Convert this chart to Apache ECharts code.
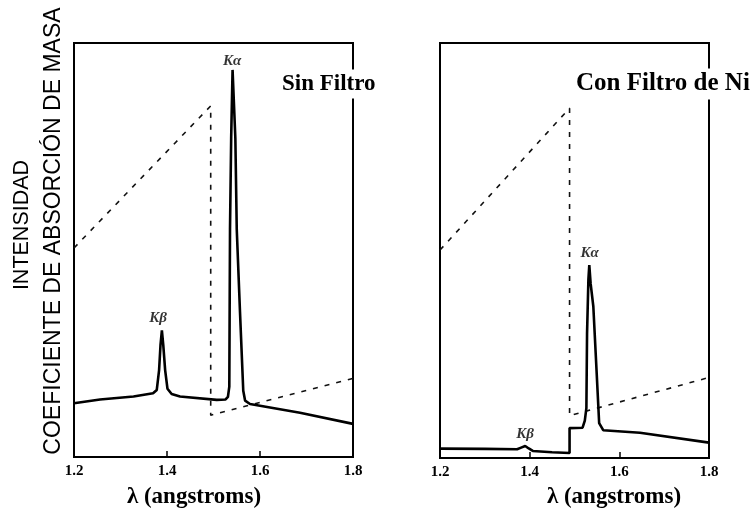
<!DOCTYPE html>
<html>
<head>
<meta charset="utf-8">
<script src="https://cdn.jsdelivr.net/npm/echarts@6/dist/echarts.min.js"></script>
<style>html,body{margin:0;padding:0;background:#fff}#c{width:754px;height:512px}</style>
</head>
<body>
<div id="c"></div>
<script>
// ---- data (wavelength in angstroms, relative units 0..100) ----
const xTicks = [1.2, 1.4, 1.6, 1.8];

const lambdaSin = [1.200, 1.256, 1.328, 1.370, 1.378, 1.383, 1.386, 1.389, 1.392, 1.396, 1.401, 1.410, 1.428, 1.507, 1.526, 1.531, 1.534, 1.5355, 1.538, 1.541, 1.547, 1.550, 1.557, 1.564, 1.568, 1.5785, 1.686, 1.800];
const intensitySin = [13.0, 13.9, 14.6, 15.4, 16.2, 21, 27, 30.6, 27, 21, 16.5, 15.2, 14.6, 13.8, 13.9, 14.5, 17, 55, 77, 93.5, 77, 55, 35, 16, 13.6, 12.8, 10.7, 8.0];

const lambdaCon = [1.200, 1.300, 1.372, 1.381, 1.390, 1.398, 1.407, 1.450, 1.489, 1.489, 1.518, 1.523, 1.5265, 1.528, 1.531, 1.533, 1.536, 1.542, 1.5495, 1.555, 1.564, 1.646, 1.800];
const intensityCon = [2.25, 2.2, 2.1, 2.5, 2.9, 2.3, 1.7, 1.4, 1.2, 7.2, 7.3, 9, 12, 30, 43, 46.5, 42, 36.5, 20.4, 8.4, 6.7, 6.1, 3.7];

const absLambdaSin = [1.2, 1.494, 1.494, 1.8];
const absorptionSin = [50.5, 84.8, 10.1, 19.0];
const absLambdaCon = [1.2, 1.489, 1.489, 1.8];
const absorptionCon = [50.1, 84.3, 10.2, 19.4];

const peakNames = ['Kβ', 'Kα'];
const peakLambdaSin = [1.381, 1.540];
const peakLabelYSin = [33.6, 95.7];
const peakLambdaCon = [1.390, 1.534];
const peakLabelYCon = [5.8, 49.4];

const panelTitles = ['Sin Filtro', 'Con Filtro de Ni'];
const xTitle = 'λ (angstroms)';
const yTitles = ['INTENSIDAD', 'COEFICIENTE DE ABSORCIÓN DE MASA'];

// ---- helpers ----
const zip = (xs, ys) => xs.map((x, i) => [x, ys[i]]);
const chart = echarts.init(document.getElementById('c'), null, {renderer: 'canvas'});

function xAxisCfg(gi) {
  return {
    type: 'value', gridIndex: gi, min: 1.2, max: 1.8, interval: 0.2,
    axisLine: {show: false},
    axisTick: {show: true, inside: true, length: 6, lineStyle: {color: '#000', width: 1.5}},
    splitLine: {show: false},
    axisLabel: {
      show: true, margin: 7, color: '#000', fontFamily: '"Liberation Serif", serif',
      fontSize: 15, fontWeight: 'bold', showMinLabel: true, showMaxLabel: true, hideOverlap: false,
      formatter: v => { const t = xTicks.find(k => Math.abs(k - v) < 1e-6); return t !== undefined ? t.toFixed(1) : ''; }
    }
  };
}
function yAxisCfg(gi) {
  return {type: 'value', gridIndex: gi, min: 0, max: 100, show: false,
    axisLine: {show: false}, axisTick: {show: false}, axisLabel: {show: false}, splitLine: {show: false}};
}
const solid = {color: '#000', width: 2.6};
const dashed = {color: '#111', width: 1.6, type: [5, 7]};
function labelSeries(gi, xs, ys) {
  return {
    type: 'scatter', xAxisIndex: gi, yAxisIndex: gi, symbolSize: 1, silent: true,
    itemStyle: {color: 'rgba(0,0,0,0)'},
    data: xs.map((x, i) => ({name: peakNames[i], value: [x, ys[i]]})),
    label: {show: true, position: 'inside', formatter: p => p.name, color: '#000',
      fontFamily: '"Liberation Serif", serif', fontStyle: 'italic', fontWeight: 'bold', fontSize: 15}
  };
}
const titleFont = 'bold 23px "Liberation Serif", serif';

chart.setOption({
  animation: false,
  backgroundColor: '#fff',
  grid: [
    {left: 74, top: 43, width: 279, height: 414, show: true, borderColor: '#000', borderWidth: 2, containLabel: false, outerBoundsMode: 'none'},
    {left: 440, top: 43, width: 269, height: 415, show: true, borderColor: '#000', borderWidth: 2, containLabel: false, outerBoundsMode: 'none'}
  ],
  xAxis: [xAxisCfg(0), xAxisCfg(1)],
  yAxis: [yAxisCfg(0), yAxisCfg(1)],
  series: [
    {type: 'line', xAxisIndex: 0, yAxisIndex: 0, data: zip(absLambdaSin, absorptionSin), showSymbol: false, lineStyle: dashed},
    {type: 'line', xAxisIndex: 0, yAxisIndex: 0, data: zip(lambdaSin, intensitySin), showSymbol: false, lineStyle: solid},
    {type: 'line', xAxisIndex: 1, yAxisIndex: 1, data: zip(absLambdaCon, absorptionCon), showSymbol: false, lineStyle: dashed},
    {type: 'line', xAxisIndex: 1, yAxisIndex: 1, data: zip(lambdaCon, intensityCon), showSymbol: false, lineStyle: solid},
    labelSeries(0, peakLambdaSin, peakLabelYSin),
    labelSeries(1, peakLambdaCon, peakLabelYCon)
  ],
  graphic: [
    {type: 'text', z: 100, x: 280, y: 84, style: {text: panelTitles[0], font: titleFont, fill: '#000',
      align: 'left', textAlign: 'left', verticalAlign: 'middle', textVerticalAlign: 'middle', backgroundColor: '#fff', padding: [3, 2]}},
    {type: 'text', z: 100, x: 574, y: 84, style: {text: panelTitles[1], font: 'bold 25px "Liberation Serif", serif', fill: '#000',
      align: 'left', textAlign: 'left', verticalAlign: 'middle', textVerticalAlign: 'middle', backgroundColor: '#fff', padding: [3, 2]}},
    {type: 'text', z: 100, x: 194, y: 497, style: {text: xTitle, font: titleFont, fill: '#000',
      align: 'center', textAlign: 'center', verticalAlign: 'middle', textVerticalAlign: 'middle'}},
    {type: 'text', z: 100, x: 614, y: 497, style: {text: xTitle, font: titleFont, fill: '#000',
      align: 'center', textAlign: 'center', verticalAlign: 'middle', textVerticalAlign: 'middle'}},
    {type: 'text', z: 100, x: 22, y: 225, rotation: Math.PI / 2, style: {text: yTitles[0], font: '21.5px "Liberation Sans", sans-serif', fill: '#000',
      align: 'center', textAlign: 'center', verticalAlign: 'middle', textVerticalAlign: 'middle'}},
    {type: 'text', z: 100, x: 54, y: 231, rotation: Math.PI / 2, style: {text: yTitles[1], font: '23px "Liberation Sans", sans-serif', fill: '#000',
      align: 'center', textAlign: 'center', verticalAlign: 'middle', textVerticalAlign: 'middle'}}
  ]
});
</script>
</body>
</html>
